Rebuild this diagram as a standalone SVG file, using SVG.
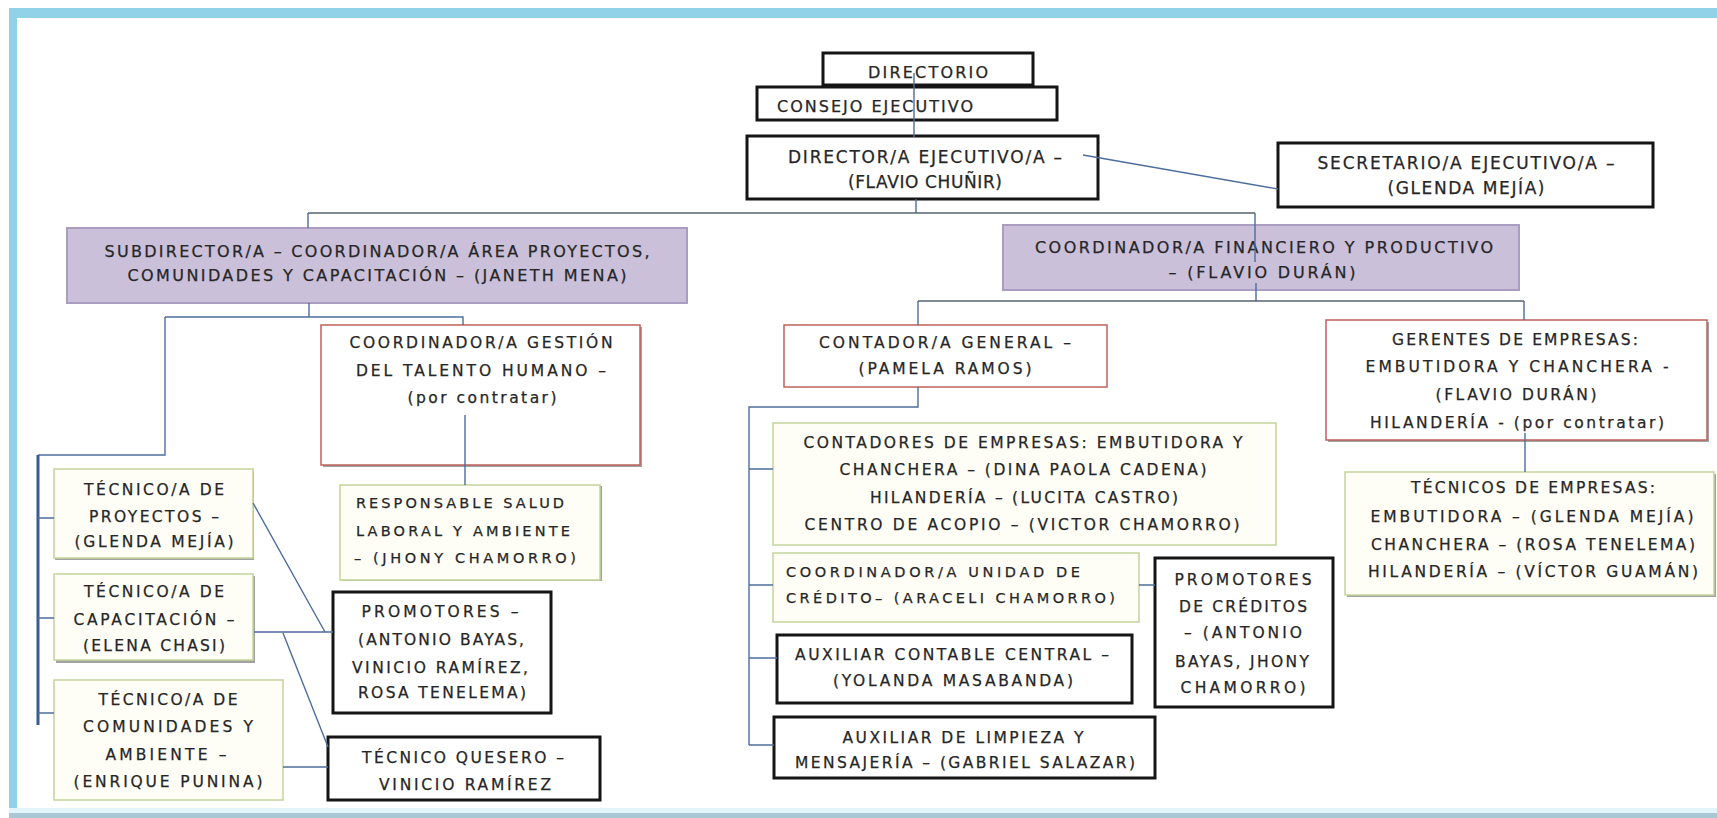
<svg xmlns="http://www.w3.org/2000/svg" width="1717" height="818" viewBox="0 0 1717 818">
<style>
text{font-family:"DejaVu Sans","Liberation Sans",sans-serif;fill:#262626;stroke:#262626;stroke-width:0.25}
.c{text-anchor:middle}
.f16{font-size:17px}.f15{font-size:16px}.f14{font-size:15.5px}.f13{font-size:14.5px}
.thick{fill:#fff;stroke:#151515;stroke-width:3}
.red{fill:#fff;stroke:#c0605c;stroke-width:1.5}
.grn{fill:#fefef7;stroke:#c3d49a;stroke-width:1.5}
.pur{fill:#cbc0da;stroke:#aa9dbf;stroke-width:2}
.sh{fill:#555;opacity:.55}
.ln{fill:none;stroke:#4d6d9d;stroke-width:1.4}
.lg{fill:none;stroke:#56606e;stroke-width:1.4}
.lb{fill:none;stroke:#3d5a98;stroke-width:3}
</style>
<rect x="0" y="0" width="1717" height="818" fill="#fff"/>
<rect x="9" y="8" width="1708" height="10" fill="#92d2e8"/>
<rect x="9" y="8" width="8" height="810" fill="#92d2e8"/>
<rect x="9" y="808" width="1708" height="5" fill="#e3f4f8"/>
<rect x="9" y="813" width="1708" height="5" fill="#a9c7d2"/>

<g id="directorio"><rect class="thick" x="823" y="53" width="210" height="32"/><text class="c f15" x="928" y="78" textLength="120">DIRECTORIO</text></g>
<g id="consejo"><rect class="thick" x="757" y="87" width="300" height="33"/><text class="f15" x="777" y="112" textLength="196">CONSEJO EJECUTIVO</text></g>
<g id="director"><rect class="thick" x="747" y="136" width="351" height="63"/><text class="c f16" x="925" y="163" textLength="274">DIRECTOR/A EJECUTIVO/A –</text><text class="c f16" x="925" y="188" textLength="154">(FLAVIO CHUÑIR)</text></g>
<g id="secretario"><rect class="thick" x="1278" y="143" width="375" height="64"/><text class="c f16" x="1466" y="169" textLength="297">SECRETARIO/A EJECUTIVO/A –</text><text class="c f16" x="1466" y="194" textLength="157">(GLENDA MEJÍA)</text></g>

<g id="subdirector"><rect class="pur" x="67" y="228" width="620" height="75"/><text class="c f15" x="377" y="257" textLength="545">SUBDIRECTOR/A – COORDINADOR/A ÁREA PROYECTOS,</text><text class="c f15" x="377" y="281" textLength="499">COMUNIDADES Y CAPACITACIÓN – (JANETH MENA)</text></g>
<g id="coord-financiero"><rect class="pur" x="1003" y="225" width="516" height="65"/><text class="c f15" x="1264" y="253" textLength="458">COORDINADOR/A FINANCIERO Y PRODUCTIVO</text><text class="c f15" x="1262" y="278" textLength="187">– (FLAVIO DURÁN)</text></g>

<g id="talento"><rect class="sh" x="323" y="327" width="319" height="140"/><rect class="red" x="321" y="325" width="319" height="140"/><text class="c f14" x="481" y="348" textLength="263">COORDINADOR/A GESTIÓN</text><text class="c f14" x="481" y="376" textLength="250">DEL TALENTO HUMANO –</text><text class="c f14" x="482" y="403" textLength="149">(por contratar)</text></g>
<g id="responsable"><rect class="sh" x="342" y="486" width="260" height="95"/><rect class="grn" x="340" y="485" width="260" height="95"/><text class="f13" x="356" y="508" textLength="208">RESPONSABLE SALUD</text><text class="f13" x="356" y="536" textLength="214">LABORAL Y AMBIENTE</text><text class="f13" x="354" y="563" textLength="222">– (JHONY CHAMORRO)</text></g>
<g id="tecnico-proyectos"><rect class="sh" x="55" y="471" width="199" height="89"/><rect class="grn" x="54" y="469" width="199" height="89"/><text class="c f14" x="154" y="495" textLength="140">TÉCNICO/A DE</text><text class="c f14" x="154" y="522" textLength="130">PROYECTOS –</text><text class="c f14" x="154" y="547" textLength="159">(GLENDA MEJÍA)</text></g>
<g id="tecnico-capacitacion"><rect class="sh" x="56" y="576" width="199" height="87"/><rect class="grn" x="54" y="574" width="199" height="86"/><text class="c f14" x="154" y="597" textLength="140">TÉCNICO/A DE</text><text class="c f14" x="154" y="625" textLength="161">CAPACITACIÓN –</text><text class="c f14" x="154" y="651" textLength="142">(ELENA CHASI)</text></g>
<g id="tecnico-comunidades"><rect class="grn" x="54" y="680" width="229" height="120"/><text class="c f14" x="168" y="705" textLength="139">TÉCNICO/A DE</text><text class="c f14" x="168" y="732" textLength="170">COMUNIDADES Y</text><text class="c f14" x="166" y="760" textLength="121">AMBIENTE –</text><text class="c f14" x="168" y="787" textLength="189">(ENRIQUE PUNINA)</text></g>
<g id="promotores"><rect class="thick" x="333" y="592" width="218" height="121"/><text class="c f14" x="440" y="617" textLength="157">PROMOTORES –</text><text class="c f14" x="441" y="645" textLength="166">(ANTONIO BAYAS,</text><text class="c f14" x="440" y="673" textLength="176">VINICIO RAMÍREZ,</text><text class="c f14" x="442" y="698" textLength="168">ROSA TENELEMA)</text></g>
<g id="tecnico-quesero"><rect class="thick" x="328" y="737" width="272" height="63"/><text class="c f14" x="463" y="763" textLength="202">TÉCNICO QUESERO –</text><text class="c f14" x="465" y="790" textLength="172">VINICIO RAMÍREZ</text></g>

<g id="contador"><rect class="red" x="784" y="325" width="323" height="62"/><text class="c f14" x="945" y="348" textLength="252">CONTADOR/A GENERAL –</text><text class="c f14" x="945" y="374" textLength="173">(PAMELA RAMOS)</text></g>
<g id="contadores"><rect class="grn" x="773" y="423" width="503" height="122"/><text class="c f14" x="1023" y="448" textLength="439">CONTADORES DE EMPRESAS: EMBUTIDORA Y</text><text class="c f14" x="1023" y="475" textLength="367">CHANCHERA – (DINA PAOLA CADENA)</text><text class="c f14" x="1024" y="503" textLength="308">HILANDERÍA – (LUCITA CASTRO)</text><text class="c f14" x="1022" y="530" textLength="435">CENTRO DE ACOPIO – (VICTOR CHAMORRO)</text></g>
<g id="coord-credito"><rect class="grn" x="773" y="553" width="366" height="69"/><text class="f13" x="786" y="577" textLength="294">COORDINADOR/A UNIDAD DE</text><text class="f13" x="786" y="603" textLength="329">CRÉDITO– (ARACELI CHAMORRO)</text></g>
<g id="aux-contable"><rect class="thick" x="777" y="635" width="355" height="68"/><text class="c f14" x="952" y="660" textLength="314">AUXILIAR CONTABLE CENTRAL –</text><text class="c f14" x="953" y="686" textLength="240">(YOLANDA MASABANDA)</text></g>
<g id="aux-limpieza"><rect class="thick" x="774" y="717" width="381" height="61"/><text class="c f14" x="963" y="743" textLength="241">AUXILIAR DE LIMPIEZA Y</text><text class="c f14" x="965" y="768" textLength="340">MENSAJERÍA – (GABRIEL SALAZAR)</text></g>
<g id="promotores-creditos"><rect class="thick" x="1155" y="558" width="178" height="149"/><text class="c f14" x="1243" y="585" textLength="137">PROMOTORES</text><text class="c f14" x="1243" y="612" textLength="128">DE CRÉDITOS</text><text class="c f14" x="1243" y="638" textLength="118">– (ANTONIO</text><text class="c f14" x="1242" y="667" textLength="134">BAYAS, JHONY</text><text class="c f14" x="1243" y="693" textLength="125">CHAMORRO)</text></g>
<g id="gerentes"><rect class="sh" x="1328" y="322" width="381" height="120"/><rect class="red" x="1326" y="320" width="381" height="120"/><text class="c f14" x="1515" y="345" textLength="246">GERENTES DE EMPRESAS:</text><text class="c f14" x="1517" y="372" textLength="303">EMBUTIDORA Y CHANCHERA -</text><text class="c f14" x="1516" y="400" textLength="161">(FLAVIO DURÁN)</text><text class="c f14" x="1517" y="428" textLength="294">HILANDERÍA - (por contratar)</text></g>
<g id="tecnicos-empresas"><rect class="sh" x="1347" y="474" width="369" height="123"/><rect class="grn" x="1345" y="472" width="369" height="123"/><text class="c f14" x="1533" y="493" textLength="244">TÉCNICOS DE EMPRESAS:</text><text class="c f14" x="1532" y="522" textLength="323">EMBUTIDORA – (GLENDA MEJÍA)</text><text class="c f14" x="1533" y="550" textLength="324">CHANCHERA – (ROSA TENELEMA)</text><text class="c f14" x="1533" y="577" textLength="330">HILANDERÍA – (VÍCTOR GUAMÁN)</text></g>

<g id="connectors">
<path class="ln" d="M914 73V137M916 199V213M1083 155L1278 189"/>
<path class="lg" d="M308 213H1255"/>
<path class="ln" d="M308 213V228M1255 213V262M1256 283V301"/>
<path class="lg" d="M918 301H1524"/>
<path class="ln" d="M918 301V325M1524 301V320M1525 433V472"/>
<path class="ln" d="M918 387V407H749V745M749 469H773M749 585H773M749 658H777M749 745H774M1139 585H1155"/>
<path class="ln" d="M309 303V317M165 317H463V325M165 317V455H38M465 415V485"/>
<path class="lb" d="M38 455V725"/>
<path class="ln" d="M38 518H54M38 618H54M38 713H54"/>
<path class="ln" d="M253 503L325 632M254 632H333M283 633L328 747M283 767H328"/>
</g>
</svg>
